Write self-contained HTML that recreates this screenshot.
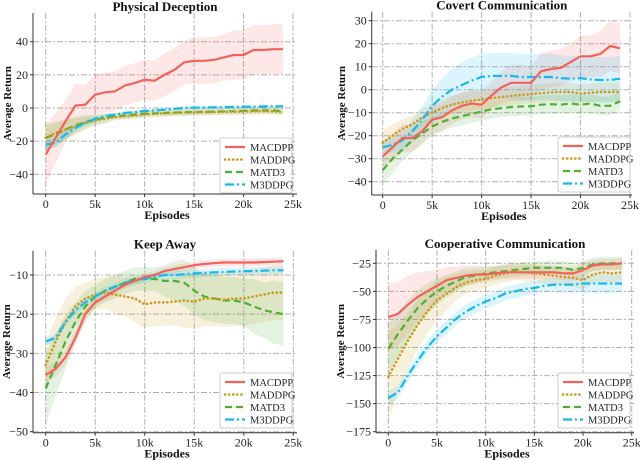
<!DOCTYPE html>
<html><head><meta charset="utf-8"><style>
body{margin:0;background:#fff;}
svg{display:block;font-family:"Liberation Serif",serif;}
</style></head><body>
<svg id="fig" width="640" height="460"></svg>
<script>
const episodesK=[0,1,2,3,4,5,6,7,8,9,10,11,12,13,14,15,16,17,18,19,20,21,22,23,24];
const seriesNames=["MACDPP","MADDPG","MATD3","M3DDPG"];
// Physical Deception
const pdMACDPP=[-28,-18,-8,1.5,2,8,9.5,10,13.5,15,17,16.5,20,23,27.5,28.5,28.5,29,30.5,32,32,35,35,35.5,35.5];
const pdMADDPG=[-18,-15,-13,-11,-9,-7.5,-6.5,-5.5,-5,-4.5,-4,-3.5,-3.2,-3,-2.8,-2.6,-2.5,-2.4,-2.3,-2.2,-2.1,-2,-2,-2,-2.5];
const pdMATD3=[-18,-16,-13,-10.5,-8.5,-7,-6,-5,-4.5,-4,-3.5,-3.2,-3,-2.8,-2.6,-2.5,-2.3,-2.2,-2,-2,-1.8,-1.5,-1.5,-1.5,-2];
const pdM3DDPG=[-22,-21,-16,-12,-9,-6.5,-5,-4,-3,-2.5,-1.8,-1.5,-1,-0.5,0,0.2,0.3,0.4,0.5,0.6,0.7,0.8,0.9,1,1];
const pdStdMACDPP=[18,15,13,13,12,12,12,12,12,12,12,12,13,13,13,14,14,14,14,15,15,15,15,15,15];
const pdStdMADDPG=[8,7,6,5,4,3,3,2,2,2,2,2,2,2,2,2,2,2,2,2,2,2,2,2,2];
const pdStdMATD3=[8,7,6,5,4,3,3,2,2,2,2,2,2,2,2,2,2,2,2,2,2,2,2,2,2];
const pdStdM3DDPG=[3,3,3,2,2,2,1,1,1,1,1,1,1,1,1,1,1,1,1,1,1,1,1,1,1];
const pdTicks=[-40,-20,0,20,40];
// Covert Communication
const ccMACDPP=[-29,-25,-21,-21,-18,-13,-12,-9,-7,-6,-6.5,-2.5,1,3,3,3,8,9,9.5,12,14.5,14.5,15.5,19,18];
const ccMADDPG=[-23,-20,-17,-15,-12,-10,-8,-6.5,-5.5,-4.8,-4.3,-3.7,-3.2,-2.7,-2.3,-1.9,-1.5,-1.2,-1,-1,-1.8,-1.3,-1,-1,-1];
const ccMATD3=[-35,-30,-26,-22,-19,-16,-14,-12.5,-11.5,-10.5,-9.5,-8.5,-8,-7.5,-7.3,-7.2,-6.5,-6.3,-6.5,-6,-6.5,-6,-7,-7,-5];
const ccM3DDPG=[-25,-24,-22,-18,-13,-7,-3,0,2,4,5.5,6,6,6,5.5,5.5,5.5,5.5,5,4.8,5,4.5,4.2,4.2,4.8];
const ccStdMACDPP=[6,6,6,6,5,6,6,6,6,6,6,6,7,8,8,7,8,8,8,8,9,9,10,11,11];
const ccStdMADDPG=[5,5,4,4,4,4,4,4,4,4,4,4,4,4,4,4,4,4,4,4,4,4,4,4,4];
const ccStdMATD3=[6,6,5,5,5,4,4,4,4,4,4,4,4,4,4,4,4,4,4,4,4,4,4,4,4];
const ccStdM3DDPG=[3,3,4,5,6,7,8,9,10,10,10,10,10,10,10,10,10,10,10,10,10,10,10,10,10];
const ccTicks=[-40,-30,-20,-10,0,10,20,30];
// Keep Away
const kaMACDPP=[-35.5,-34,-31,-26,-20,-17,-15.5,-14,-12.5,-11.5,-10.5,-10,-9,-8.5,-8,-7.5,-7.2,-7,-6.8,-6.8,-6.8,-6.8,-6.7,-6.6,-6.5];
const kaMADDPG=[-33,-27,-22,-18,-16,-15,-14.5,-15,-15.5,-16,-17.5,-17,-17,-16.8,-16.5,-16.8,-16,-16,-16.3,-16,-16,-15.5,-15,-14.5,-14.5];
const kaMATD3=[-39,-33,-27,-22,-18,-15.5,-14,-13,-12,-11,-11,-11,-11.5,-11.5,-12,-14,-15.5,-16,-16.5,-16.5,-17,-18,-19,-19.5,-20];
const kaM3DDPG=[-27,-26,-22,-19,-17,-15.5,-14,-13,-12,-11.5,-11,-10.5,-10,-10,-9.8,-9.6,-9.5,-9.3,-9.2,-9.1,-9,-9,-8.9,-8.8,-8.8];
const kaStdMACDPP=[2,2,2,2,1.5,1,1,1,1,1,1,1,1,1,1,1,1,1,1,1,1,1,1,1,1];
const kaStdMADDPG=[6,6,6,5,4,4,4,5,5,6,6,6,6,6,7,7,7,7,7,7,7,7,7,7,7];
const kaStdMATD3=[9,8,7,5,4,3,3,3,3,3,3,3,4,5,6,6,6,6,6,6,6,7,7,8,8];
const kaStdM3DDPG=[1,1,1,1,1,1,1,1,1,1,1,1,1,1,1,1,1,1,1,1,1,1,1,1,1];
const kaTicks=[-50,-40,-30,-20,-10];
// Cooperative Communication
const coMACDPP=[-73,-70,-62,-55,-50,-45,-40,-38,-36,-35,-35,-34,-33,-33,-33,-33,-33,-33,-34,-34,-31,-27,-26,-26,-25];
const coMADDPG=[-126,-110,-94,-80,-68,-58,-52,-46,-42,-40,-39,-36,-34,-32,-33,-34,-35,-36,-37,-38,-40,-35,-33,-34,-33];
const coMATD3=[-101,-88,-76,-65,-57,-50,-45,-41,-37,-36,-34,-33,-32,-31,-30,-29,-29,-29,-29,-31,-29,-26,-25,-25,-25];
const coM3DDPG=[-145,-140,-125,-112,-100,-90,-82,-74,-68,-63,-59,-56,-52,-50,-48,-47,-45,-44,-44,-44,-43,-43,-43,-43,-43];
const coStdMACDPP=[30,28,26,22,18,14,12,10,9,8,7,6,6,6,6,6,6,6,6,6,6,5,5,5,5];
const coStdMADDPG=[40,30,25,22,20,18,15,12,10,9,8,8,8,8,8,8,8,8,8,8,8,8,8,8,8];
const coStdMATD3=[22,20,18,16,14,12,10,9,8,7,6,6,6,6,6,6,6,6,6,6,6,6,6,6,6];
const coStdM3DDPG=[6,6,6,6,6,6,6,6,6,6,6,6,6,6,6,6,6,6,7,7,8,8,8,8,8];
const coTicks=[-175,-150,-125,-100,-75,-50,-25];
const xTicks=[0,5,10,15,20,25];
const xTickLabels=["0","5k","10k","15k","20k","25k"];

const NS="http://www.w3.org/2000/svg";
const fig=document.getElementById('fig');
function el(tag,attrs,parent){const e=document.createElementNS(NS,tag);for(const k in attrs)e.setAttribute(k,attrs[k]);(parent||fig).appendChild(e);return e;}
const colors=["#f2625b","#c99a1e","#4cb035","#17b8ea"];
const dashes=["none","0.1,4","7,4","9,3,2,3"];
const caps=["butt","round","butt","butt"];
const fills=["rgba(242,98,91,0.15)","rgba(201,154,30,0.15)","rgba(76,176,53,0.15)","rgba(23,184,234,0.15)"];

const panels=[
 {id:"physical-deception",title:"Physical Deception",L:33,T:13,R:297,B:194,x0:45.7,x25:293,y1v:40,y1p:41.7,y2v:-40,y2p:174.3,ticks:pdTicks,
  series:[pdMACDPP,pdMADDPG,pdMATD3,pdM3DDPG],std:[pdStdMACDPP,pdStdMADDPG,pdStdMATD3,pdStdM3DDPG],leg:[220,138],ylx:8},
 {id:"covert-communication",title:"Covert Communication",L:371.7,T:11.7,R:632,B:195,x0:382.7,x25:630,y1v:30,y1p:20.7,y2v:-40,y2p:181.7,ticks:ccTicks,
  series:[ccMACDPP,ccMADDPG,ccMATD3,ccM3DDPG],std:[ccStdMACDPP,ccStdMADDPG,ccStdMATD3,ccStdM3DDPG],leg:[558,137],ylx:342},
 {id:"keep-away",title:"Keep Away",L:33,T:250.7,R:297,B:432.7,x0:45.7,x25:293.3,y1v:-10,y1p:275,y2v:-50,y2p:431.7,ticks:kaTicks,
  series:[kaMACDPP,kaMADDPG,kaMATD3,kaM3DDPG],std:[kaStdMACDPP,kaStdMADDPG,kaStdMATD3,kaStdM3DDPG],leg:[220,373],ylx:7},
 {id:"cooperative-communication",title:"Cooperative Communication",L:376,T:250,R:634,B:432.7,x0:388.3,x25:631.7,y1v:-25,y1p:263.3,y2v:-175,y2p:431.7,ticks:coTicks,
  series:[coMACDPP,coMADDPG,coMATD3,coM3DDPG],std:[coStdMACDPP,coStdMADDPG,coStdMATD3,coStdM3DDPG],leg:[558,373],ylx:341}
];

panels.forEach(p=>{
 const g=el('g',{});
 
 
 const X=v=>p.x0+(p.x25-p.x0)*v/25;
 const Y=v=>p.y1p+(p.y2p-p.y1p)*(v-p.y1v)/(p.y2v-p.y1v);
 const clip=el('clipPath',{id:'c-'+p.id},g);
 el('rect',{x:p.L,y:p.T,width:p.R-p.L,height:p.B-p.T},clip);
 xTicks.forEach((t,i)=>{
  const gl=el('line',{x1:X(t),x2:X(t),y1:p.T,y2:p.B,stroke:"#b0b0b0","stroke-width":1,"stroke-dasharray":"6,2,2,2"},g);
  
  
  el('line',{x1:X(t),x2:X(t),y1:p.B,y2:p.B+3,stroke:"#333"},g);
  const tl=el('text',{x:X(t),y:p.B+14,"text-anchor":"middle","font-size":12,fill:"#222"},g);
  tl.textContent=xTickLabels[i];
  
  
 });
 p.ticks.forEach(t=>{
  const gl=el('line',{x1:p.L,x2:p.R,y1:Y(t),y2:Y(t),stroke:"#b0b0b0","stroke-width":1,"stroke-dasharray":"6,2,2,2"},g);
  
  
  el('line',{x1:p.L-3,x2:p.L,y1:Y(t),y2:Y(t),stroke:"#333"},g);
  const tl=el('text',{x:p.L-5,y:Y(t)+4,"text-anchor":"end","font-size":12,fill:"#222"},g);
  tl.textContent=String(t).replace('-','\u2212');
  
  
 });
 p.series.forEach((s,si)=>{
  const sd=p.std[si];
  let d='';
  s.forEach((v,i)=>{d+=(i?'L':'M')+X(episodesK[i]).toFixed(1)+','+Y(v+sd[i]).toFixed(1);});
  for(let i=s.length-1;i>=0;i--)d+='L'+X(episodesK[i]).toFixed(1)+','+Y(s[i]-sd[i]).toFixed(1);
  const b=el('path',{d:d+'Z',fill:fills[si],stroke:"none","clip-path":"url(#c-"+p.id+")"},g);
  
  
 });
 [2,1,3,0].forEach(si=>{
  const s=p.series[si];
  const pts=s.map((v,i)=>X(episodesK[i]).toFixed(1)+','+Y(v).toFixed(1)).join(' ');
  const ln=el('polyline',{points:pts,fill:"none",stroke:colors[si],"stroke-width":si==1?2.6:2.2,"stroke-dasharray":dashes[si],"stroke-linecap":caps[si]},g);
  
  
 });
 el('line',{x1:p.L,x2:p.L,y1:p.T,y2:p.B,stroke:"#333","stroke-width":1},g);
 el('line',{x1:p.L,x2:p.R,y1:p.B,y2:p.B,stroke:"#333","stroke-width":1},g);
 const tt=el('text',{x:(p.L+p.R)/2,y:p.T-2,"text-anchor":"middle","font-size":13,"font-weight":"bold",fill:"#111"},g);
 tt.textContent=p.title;
 
 
 const xl=el('text',{x:(p.L+p.R)/2+2,y:p.B+25,"text-anchor":"middle","font-size":12,"font-weight":"bold",fill:"#111"},g);
 xl.textContent="Episodes";
 
 
 const cy=(p.T+p.B)/2;
 const yl=el('text',{x:p.ylx,y:cy,"text-anchor":"middle","font-size":11,"font-weight":"bold",fill:"#111",transform:"rotate(-90 "+p.ylx+" "+cy+")","dominant-baseline":"central"},g);
 yl.textContent="Average Return";
 
 
 const lg=el('g',{},g);
 
 
 const [lx,ly]=p.leg;
 el('rect',{x:lx,y:ly,width:72,height:55,rx:2,fill:"#fff","fill-opacity":0.9,stroke:"#ccc"},lg);
 seriesNames.forEach((n,si)=>{
  const yy=ly+9+si*12.5;
  el('line',{x1:lx+5,x2:lx+25,y1:yy,y2:yy,stroke:colors[si],"stroke-width":si==1?2.6:2.2,"stroke-dasharray":dashes[si],"stroke-linecap":caps[si]},lg);
  const t=el('text',{x:lx+30,y:yy+4,"font-size":10.5,fill:"#222"},lg);
  t.textContent=n;
  
  
 });
});
</script>
</body></html>
